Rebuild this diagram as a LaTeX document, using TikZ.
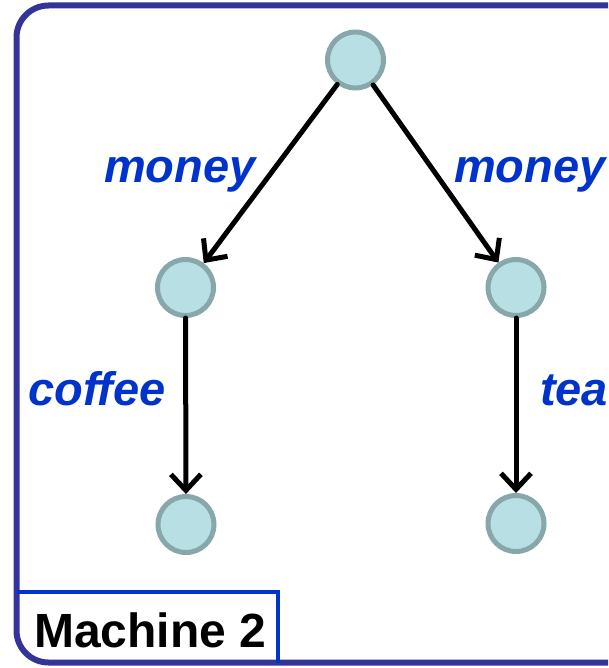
\documentclass[tikz,border=0pt]{standalone}
\usepackage{fontspec}
\setmainfont{Liberation Sans}
\usetikzlibrary{arrows.meta}
\definecolor{framecol}{HTML}{333399}
\definecolor{tagcol}{HTML}{0033CC}
\definecolor{labelcol}{HTML}{0033CC}
\definecolor{statefill}{HTML}{B8DFE3}
\definecolor{stateline}{HTML}{88A7AA}
\tikzset{
  state/.style={circle, minimum size=56pt, inner sep=0pt, fill=statefill, draw=stateline, line width=5pt},
  trans/.style={draw=black, line width=5pt, line cap=round, -{Straight Barb[length=16pt,width=30pt,line width=5pt]}},
  act/.style={text=labelcol, font=\fontsize{47}{50}\selectfont\bfseries\itshape, inner sep=0pt, anchor=base west},
}
\begin{document}
\begin{tikzpicture}[x=1pt, y=-1pt]
  \useasboundingbox (0,0) rectangle (608,668);
  \clip (0,0) rectangle (608,668);
  % outer frame (runs past the right edge)
  \draw[framecol, line width=6pt, rounded corners=32pt] (16.5,5.5) rectangle (640,662.5);
  % name tag in the lower left corner
  \draw[tagcol, line width=3.5pt] (16.5,592) -- (278,592) -- (278,662.5);
  \node[anchor=base west, inner sep=0pt, font=\fontsize{48}{50}\selectfont\bfseries] (tag) at (34,647) {Machine 2};
  % states
  \node[state] (s0) at (355.5,60) {};
  \node[state] (s1) at (185.5,287.5) {};
  \node[state] (s2) at (516,287.5) {};
  \node[state] (s3) at (186,524.5) {};
  \node[state] (s4) at (516,523.5) {};
  % transitions
  \draw[trans] (s0) -- (s1);
  \draw[trans] (s0) -- (s2);
  \draw[trans] (s1) -- (s3);
  \draw[trans] (s2) -- (s4);
  % transition labels
  \node[act] (l1) at (104,183) {money};
  \node[act] (l2) at (454,183) {money};
  \node[act] (l3) at (28,405) {coffee};
  \node[act] (l4) at (540,405) {tea};
\end{tikzpicture}
\end{document}
